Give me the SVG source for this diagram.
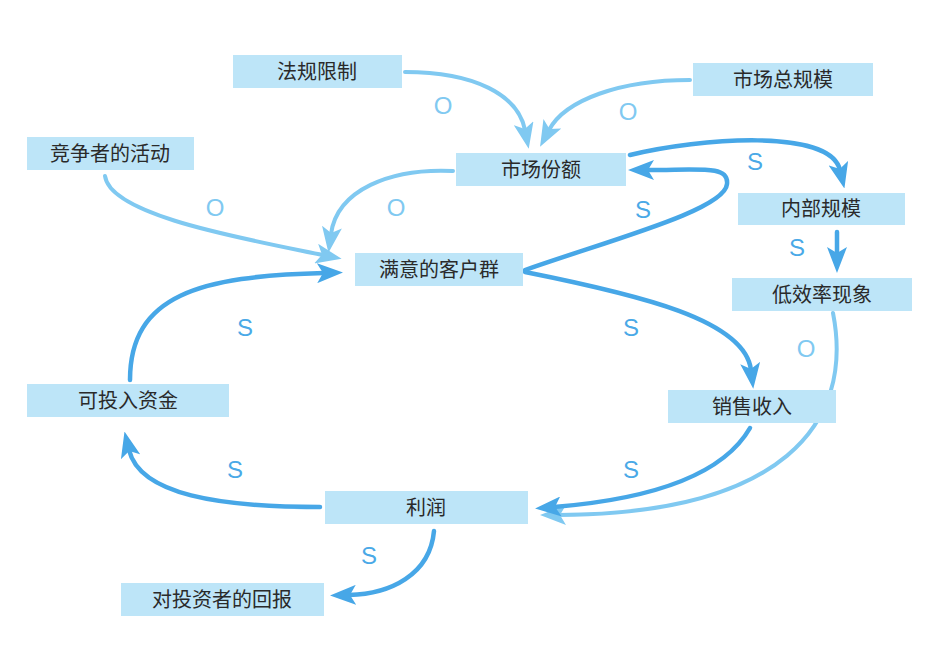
<svg xmlns="http://www.w3.org/2000/svg" width="944" height="668" viewBox="0 0 944 668">
<style>
.box{fill:#bde5f8}
.t{font-family:"Noto Sans CJK SC","Noto Sans",sans-serif;font-size:20px;fill:#2a2a2a;text-anchor:middle}
.d{fill:none;stroke:#47a7e7;stroke-width:4.5;stroke-linecap:round}
.l{fill:none;stroke:#80c9f1;stroke-width:4;stroke-linecap:round}
.s{font-family:"Liberation Sans",sans-serif;font-size:24px;fill:#4aa9e7;text-anchor:middle}
.o{font-family:"Liberation Sans",sans-serif;font-size:24px;fill:#80c9f1;text-anchor:middle}
</style>
<defs>
<marker id="ad" markerUnits="userSpaceOnUse" viewBox="0 0 26 20" markerWidth="26" markerHeight="20" refX="7" refY="10" orient="auto">
<path d="M0,0 L26,10 L0,20 L6,10 z" fill="#47a7e7"/>
</marker>
<marker id="al" markerUnits="userSpaceOnUse" viewBox="0 0 26 20" markerWidth="26" markerHeight="20" refX="7" refY="10" orient="auto">
<path d="M0,0 L26,10 L0,20 L6,10 z" fill="#80c9f1"/>
</marker>
</defs>
<rect width="944" height="668" fill="#ffffff"/>
<g id="connectors">
<path class="l" marker-end="url(#al)" d="M405,72 C475,72 518,95 525,130"/>
<path class="l" marker-end="url(#al)" d="M690,80 C620,80 565,100 549,130"/>
<path class="l" marker-end="url(#al)" d="M105,176 C110,215 240,238 323,255"/>
<path class="l" marker-end="url(#al)" d="M453,171 C390,168 337,190 331,234"/>
<path class="d" marker-end="url(#ad)" d="M525,270 C610,240 725,210 727,184 C729,165 700,170 647,170"/>
<path class="d" marker-end="url(#ad)" d="M630,155 C700,138 830,128 840,170"/>
<path class="d" marker-end="url(#ad)" d="M837,232 L837,254"/>
<path class="d" marker-end="url(#ad)" d="M525,272 C640,295 745,320 751,370"/>
<path class="l" marker-end="url(#al)" d="M833,313 C855,425 780,514 559,515"/>
<path class="d" marker-end="url(#ad)" d="M750,428 C720,480 640,500 554,507"/>
<path class="d" marker-end="url(#ad)" d="M320,507 C220,507 140,495 129,450"/>
<path class="d" marker-end="url(#ad)" d="M130,380 C130,295 200,276 324,273"/>
<path class="d" marker-end="url(#ad)" d="M434,531 C430,575 390,594 349,595"/>
<text class="o" x="443" y="114">O</text>
<text class="o" x="628" y="120">O</text>
<text class="o" x="215" y="216">O</text>
<text class="o" x="396" y="216">O</text>
<text class="s" x="643" y="218">S</text>
<text class="s" x="755" y="170">S</text>
<text class="s" x="797" y="256">S</text>
<text class="s" x="631" y="336">S</text>
<text class="o" x="806" y="357">O</text>
<text class="s" x="631" y="478">S</text>
<text class="s" x="235" y="478">S</text>
<text class="s" x="245" y="336">S</text>
<text class="s" x="369" y="564">S</text>
</g>
<g id="n-fagui"><rect class="box" x="233" y="55" width="169" height="33"/><text class="t" x="317" y="79">法规限制</text></g>
<g id="n-zongguimo"><rect class="box" x="693" y="63" width="180" height="33"/><text class="t" x="783" y="87">市场总规模</text></g>
<g id="n-jingzheng"><rect class="box" x="27" y="137" width="167" height="33"/><text class="t" x="110" y="161">竞争者的活动</text></g>
<g id="n-fene"><rect class="box" x="456" y="153" width="170" height="33"/><text class="t" x="541" y="177">市场份额</text></g>
<g id="n-neibu"><rect class="box" x="738" y="193" width="167" height="32"/><text class="t" x="821" y="216">内部规模</text></g>
<g id="n-manyi"><rect class="box" x="355" y="253" width="168" height="33"/><text class="t" x="439" y="277">满意的客户群</text></g>
<g id="n-dixiao"><rect class="box" x="732" y="278" width="180" height="33"/><text class="t" x="822" y="302">低效率现象</text></g>
<g id="n-zijin"><rect class="box" x="27" y="384" width="202" height="33"/><text class="t" x="128" y="408">可投入资金</text></g>
<g id="n-xiaoshou"><rect class="box" x="668" y="390" width="168" height="33"/><text class="t" x="752" y="414">销售收入</text></g>
<g id="n-lirun"><rect class="box" x="325" y="491" width="203" height="33"/><text class="t" x="426" y="515">利润</text></g>
<g id="n-huibao"><rect class="box" x="121" y="583" width="203" height="33"/><text class="t" x="222" y="607">对投资者的回报</text></g>
</svg>
